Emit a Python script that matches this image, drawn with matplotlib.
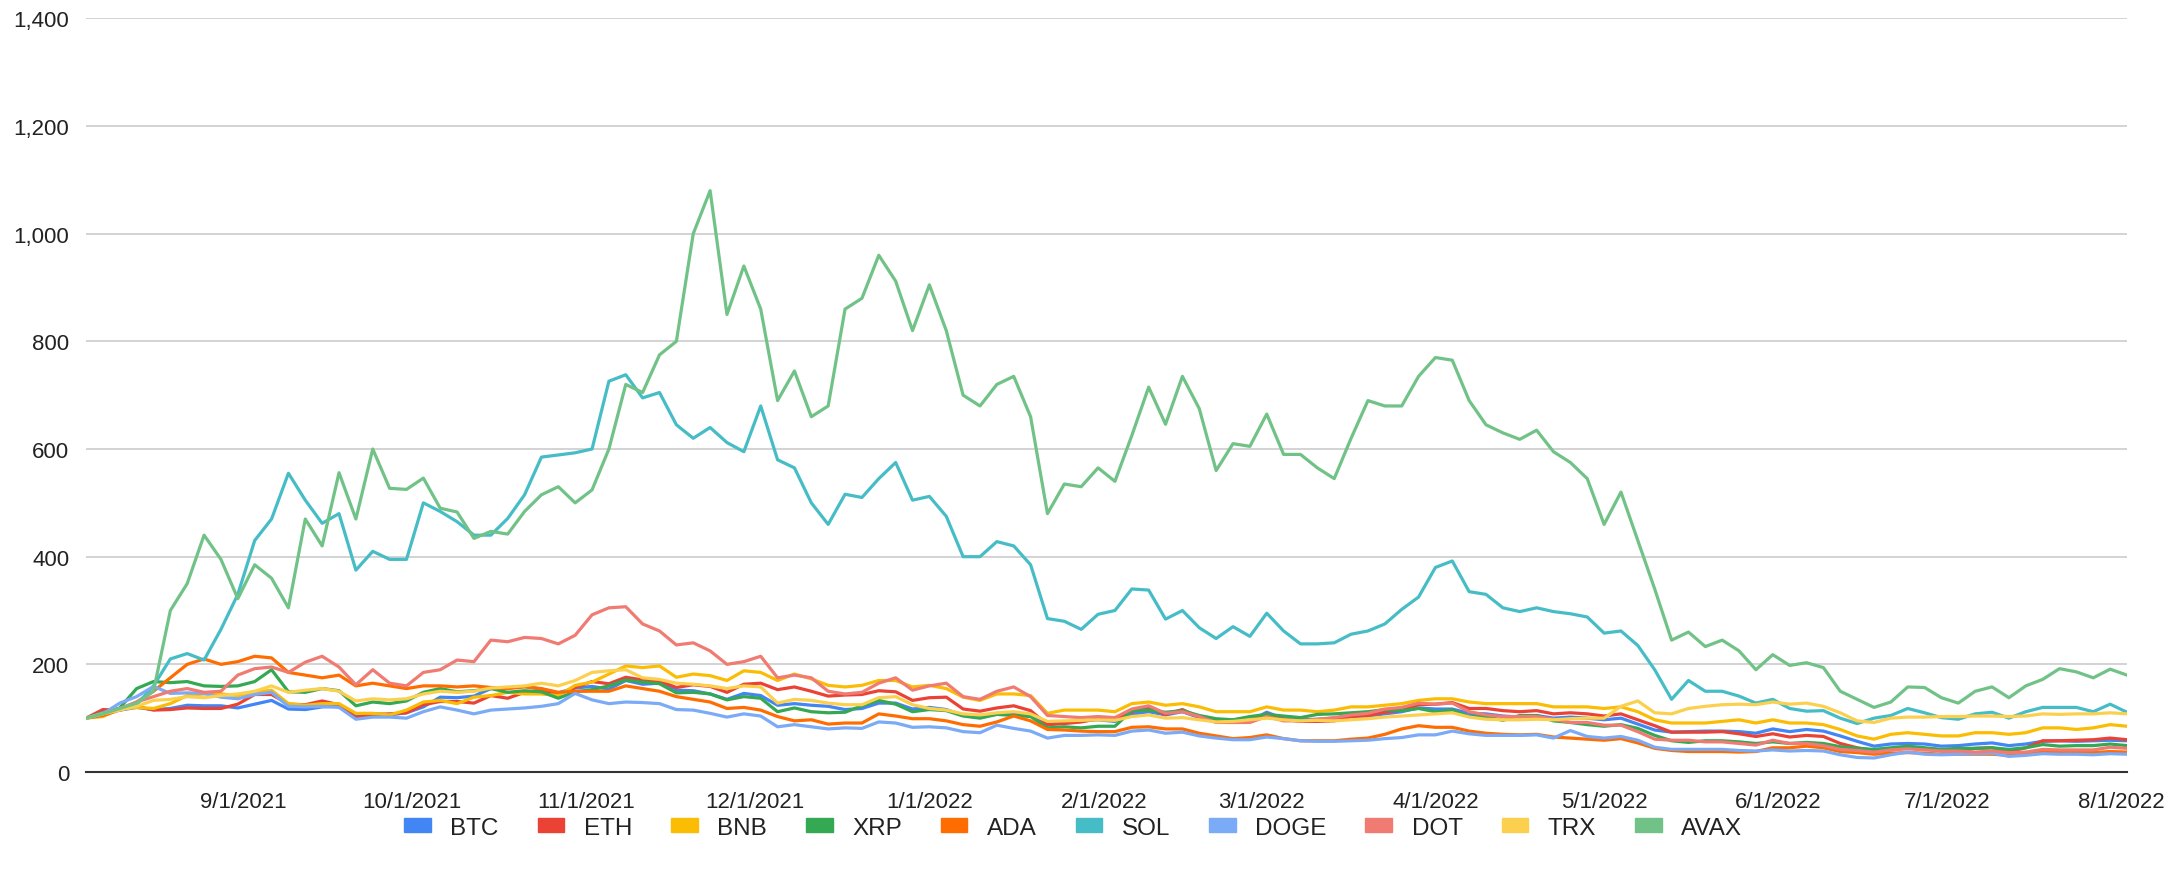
import matplotlib
matplotlib.use("Agg")
import matplotlib.pyplot as plt
import matplotlib.dates as mdates
import matplotlib.patches as mpatches
from matplotlib.ticker import FuncFormatter
import pandas as pd

# every third day, 2021-08-04 .. 2022-08-02, price indexed to 100 on the first day
dates = pd.date_range("2021-08-04", periods=122, freq="3D")

btc = [100, 112, 115, 120, 116, 118, 124, 123, 123, 119,
       126, 133, 117, 116, 121, 122, 103, 108, 106, 110,
       121, 139, 138, 141, 155, 156, 159, 154, 147, 156,
       159, 154, 170, 163, 165, 152, 151, 145, 135, 146,
       142, 124, 127, 124, 122, 116, 118, 128, 128, 117,
       120, 116, 105, 105, 107, 109, 105, 88, 92, 95,
       97, 94, 107, 112, 106, 112, 101, 93, 96, 95,
       111, 99, 97, 98, 100, 103, 104, 108, 112, 119,
       117, 117, 109, 108, 104, 102, 105, 100, 102, 100,
       97, 100, 89, 78, 74, 75, 76, 76, 75, 72,
       80, 75, 79, 76, 67, 57, 48, 52, 53, 52,
       48, 49, 52, 54, 49, 52, 57, 58, 57, 58,
       59, 58]

eth = [100, 116, 115, 122, 115, 116, 119, 118, 118, 126,
       144, 144, 126, 125, 132, 125, 101, 107, 108, 110,
       125, 131, 131, 128, 142, 137, 148, 150, 144, 157,
       168, 164, 176, 171, 169, 157, 162, 159, 148, 163,
       165, 153, 158, 150, 141, 143, 144, 151, 149, 133,
       138, 139, 117, 113, 119, 123, 114, 88, 90, 93,
       99, 98, 112, 119, 107, 116, 102, 94, 95, 96,
       108, 98, 94, 94, 95, 103, 105, 111, 115, 125,
       126, 129, 118, 118, 114, 112, 114, 108, 110, 108,
       104, 108, 97, 86, 74, 74, 74, 75, 71, 66,
       71, 65, 68, 66, 53, 45, 40, 41, 45, 44,
       39, 39, 44, 45, 38, 45, 58, 58, 59, 60,
       63, 60]

bnb = [100, 103, 117, 120, 118, 127, 142, 145, 145, 142,
       148, 152, 127, 124, 127, 127, 109, 109, 106, 115,
       130, 133, 127, 139, 142, 148, 145, 145, 142, 161,
       167, 182, 197, 194, 197, 176, 182, 179, 170, 188,
       185, 170, 182, 173, 161, 158, 161, 170, 170, 158,
       161, 155, 139, 133, 145, 145, 142, 109, 115, 115,
       115, 112, 127, 130, 124, 127, 121, 112, 112, 112,
       121, 115, 115, 112, 115, 121, 121, 124, 127, 133,
       136, 136, 130, 127, 127, 127, 127, 121, 121, 121,
       118, 121, 112, 97, 91, 91, 91, 94, 97, 91,
       97, 91, 91, 88, 79, 67, 61, 70, 73, 70,
       67, 67, 73, 73, 70, 73, 82, 82, 79, 82,
       88, 85]

xrp = [100, 110, 119, 155, 168, 166, 168, 160, 159, 160,
       168, 190, 149, 148, 155, 151, 123, 130, 127, 132,
       148, 155, 149, 151, 155, 148, 151, 149, 137, 149,
       153, 160, 171, 167, 164, 147, 148, 145, 134, 140,
       137, 112, 119, 112, 110, 111, 123, 133, 126, 112,
       116, 114, 104, 100, 107, 105, 103, 82, 84, 82,
       85, 85, 114, 115, 111, 114, 105, 99, 97, 103,
       107, 104, 101, 107, 108, 110, 112, 116, 114, 118,
       112, 115, 103, 103, 96, 105, 105, 95, 92, 88,
       85, 88, 81, 68, 58, 55, 58, 58, 56, 53,
       56, 53, 55, 53, 47, 44, 42, 45, 48, 45,
       42, 44, 44, 45, 42, 45, 51, 48, 49, 49,
       52, 49]

ada = [100, 105, 115, 130, 150, 175, 200, 210, 200, 205,
       215, 212, 185, 180, 175, 180, 160, 165, 160, 155,
       160, 160, 158, 160, 157, 155, 158, 155, 148, 150,
       150, 150, 160, 155, 150, 140, 135, 130, 118, 120,
       115, 103, 95, 97, 89, 91, 91, 108, 104, 99,
       99, 95, 88, 85, 93, 104, 95, 79, 78, 76,
       75, 75, 83, 84, 80, 80, 72, 67, 62, 64,
       69, 62, 58, 58, 58, 61, 63, 70, 80, 86,
       83, 83, 76, 72, 70, 69, 70, 65, 63, 61,
       59, 62, 54, 44, 40, 38, 38, 38, 37, 38,
       45, 45, 48, 45, 38, 36, 33, 35, 36, 35,
       33, 33, 33, 33, 31, 33, 37, 36, 37, 36,
       38, 37]

sol = [100, 110, 118, 125, 160, 210, 220, 208, 265, 330,
       430, 470, 555, 505, 462, 480, 375, 410, 395, 395,
       500, 484, 465, 440, 440, 471, 515, 585, 589, 593,
       600, 726, 738, 695, 705, 645, 620, 640, 612, 595,
       680, 580, 565, 500, 460, 516, 510, 545, 575, 505,
       512, 475, 400, 400, 428, 420, 385, 285, 280, 265,
       293, 300, 340, 338, 284, 300, 268, 248, 270, 252,
       295, 262, 238, 238, 240, 256, 262, 275, 302, 325,
       380, 392, 335, 330, 305, 298, 305, 298, 294, 288,
       258, 262, 235, 190, 135, 170, 150, 150, 141, 128,
       135, 118, 113, 114, 100, 90, 100, 105, 118, 110,
       101, 98, 108, 111, 100, 112, 120, 120, 120, 112,
       126, 111]

doge = [100, 108, 128, 140, 159, 146, 147, 146, 139, 136,
        144, 148, 122, 121, 122, 120, 98, 102, 102, 100,
        112, 121, 115, 108, 115, 117, 119, 122, 127, 146,
        134, 127, 130, 129, 127, 116, 115, 109, 102, 108,
        104, 84, 88, 84, 80, 82, 81, 93, 91, 83,
        84, 82, 75, 73, 87, 81, 76, 63, 68, 68,
        69, 68, 76, 78, 72, 74, 67, 63, 60, 60,
        65, 62, 58, 57, 57, 58, 59, 62, 64, 69,
        69, 76, 71, 68, 68, 68, 69, 63, 77, 66,
        63, 66, 59, 46, 42, 42, 42, 42, 40, 39,
        41, 39, 40, 39, 32, 27, 26, 32, 37, 33,
        32, 33, 34, 35, 29, 31, 34, 33, 33, 32,
        34, 33]

dot = [100, 108, 118, 130, 140, 150, 155, 148, 150, 180,
       192, 195, 185, 204, 215, 195, 162, 190, 165, 160,
       185, 190, 208, 205, 245, 242, 250, 248, 238, 254,
       292, 305, 307, 275, 262, 236, 240, 225, 200, 205,
       215, 175, 180, 175, 150, 145, 148, 165, 175, 152,
       160, 165, 140, 135, 150, 158, 140, 105, 103, 101,
       103, 101, 117, 123, 109, 112, 103, 92, 92, 92,
       103, 95, 95, 98, 101, 106, 109, 117, 120, 128,
       126, 128, 112, 106, 103, 103, 103, 98, 92, 92,
       87, 87, 75, 61, 59, 59, 56, 56, 53, 50,
       59, 53, 53, 49, 42, 40, 37, 41, 43, 41,
       39, 39, 37, 39, 36, 37, 42, 41, 41, 41,
       46, 44]

trx = [100, 108, 115, 122, 133, 135, 140, 138, 142, 145,
       150, 160, 148, 152, 155, 150, 132, 136, 134, 136,
       145, 150, 148, 150, 156, 158, 160, 165, 160, 170,
       185, 188, 190, 175, 172, 165, 163, 160, 155, 160,
       158, 128, 135, 133, 128, 125, 125, 138, 140, 125,
       118, 115, 108, 106, 110, 112, 108, 94, 95, 96,
       97, 96, 103, 106, 100, 101, 97, 93, 94, 97,
       100, 97, 95, 96, 95, 97, 99, 102, 104, 106,
       108, 110, 102, 98, 97, 97, 98, 97, 99, 100,
       100, 122, 132, 110, 108, 118, 122, 125, 126, 125,
       130, 126, 128, 122, 110, 95, 92, 100, 102, 102,
       103, 103, 104, 104, 103, 104, 108, 107, 108, 108,
       110, 108]

avax = [100, 108, 118, 128, 150, 300, 350, 440, 395, 322,
        385, 360, 305, 470, 420, 556, 470, 600, 527, 525,
        546, 490, 483, 434, 447, 442, 484, 515, 530, 500,
        524, 600, 720, 705, 775, 800, 1000, 1080, 850, 940,
        860, 690, 745, 660, 680, 860, 880, 960, 912, 820,
        905, 820, 700, 680, 720, 735, 660, 480, 535, 530,
        565, 540, 625, 715, 646, 735, 675, 560, 610, 605,
        665, 590, 590, 565, 545, 620, 690, 680, 680, 735,
        770, 765, 690, 645, 630, 618, 635, 595, 575, 545,
        460, 520, 430, 340, 245, 260, 233, 245, 225, 190,
        218, 198, 203, 194, 150, 135, 120, 130, 158, 157,
        138, 128, 150, 158, 138, 160, 172, 192, 186, 175,
        191, 180]

names = ["BTC", "ETH", "BNB", "XRP", "ADA", "SOL", "DOGE", "DOT", "TRX", "AVAX"]
values = [btc, eth, bnb, xrp, ada, sol, doge, dot, trx, avax]
colors = ["#4285f4", "#ea4335", "#fbbc04", "#34a853", "#ff6d01",
          "#46bdc6", "#7baaf7", "#f07b72", "#fcd04f", "#71c287"]

plt.rcParams['font.family'] = ['Liberation Sans', 'DejaVu Sans']

W, H = 2168, 879
fig = plt.figure(figsize=(W / 100, H / 100), dpi=100)
ax = fig.add_axes([86 / W, 1 - 773 / H, (2127 - 86) / W, (773 - 19.4) / H])

for name, vals, col in zip(names, values, colors):
    ax.plot(dates, vals, color=col, lw=2.3, label=name, solid_joinstyle='round')

ax.set_ylim(0, 1400)
ax.set_yticks(range(0, 1401, 200))
ax.yaxis.set_major_formatter(FuncFormatter(lambda v, p: "{:,}".format(int(v))))
ax.set_xlim(dates[0], dates[-1])
ax.xaxis.set_major_locator(mdates.MonthLocator())


def date_label(v, p):
    d = mdates.num2date(v)
    return "{0}/{1}/{2}".format(d.month, d.day, d.year)


ax.xaxis.set_major_formatter(FuncFormatter(date_label))

ax.grid(axis='y', color='#cccccc', lw=1.2)
ax.set_axisbelow(True)
for s in ['top', 'right', 'left']:
    ax.spines[s].set_visible(False)
ax.spines['bottom'].set_color('#333333')
ax.spines['bottom'].set_linewidth(1.5)
ax.tick_params(axis='both', length=0, labelsize=16, colors='#222222')
ax.tick_params(axis='x', pad=14)
ax.tick_params(axis='y', pad=12)

handles = [mpatches.Patch(color=c, label=n) for n, c in zip(names, colors)]
fig.legend(handles=handles, loc='center', bbox_to_anchor=(0.495, 0.057), ncol=10,
           frameon=False, fontsize=17.5, handlelength=1.1, handleheight=0.5,
           handletextpad=0.8, columnspacing=1.6, labelcolor='#222222')

fig.savefig("out.png", dpi=100)
